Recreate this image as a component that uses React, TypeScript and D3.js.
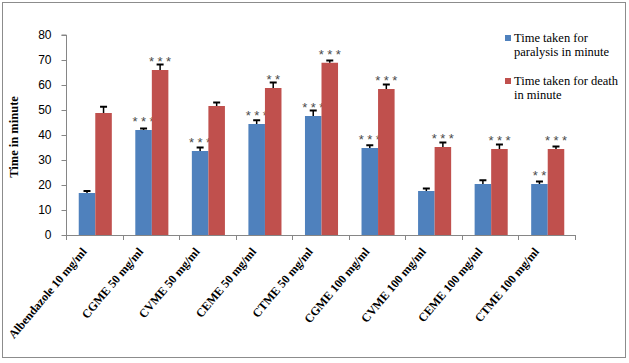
import React, { useEffect, useRef } from "react";
import * as d3 from "d3";

const categories = [
  "Albendazole 10 mg/ml",
  "CGME 50 mg/ml",
  "CVME 50 mg/ml",
  "CEME 50 mg/ml",
  "CTME 50 mg/ml",
  "CGME 100 mg/ml",
  "CVME 100 mg/ml",
  "CEME 100 mg/ml",
  "CTME 100 mg/ml",
];
const seriesNames = ["Time taken for paralysis in minute", "Time taken for death in minute"];
const paralysis = [16.8, 42, 33.6, 44.4, 47.6, 34.8, 17.6, 20.4, 20.4];
const paralysisErr = [0.8, 0.6, 1.4, 1.5, 2.2, 1.1, 1.0, 1.5, 1.0];
const death = [48.8, 66, 51.6, 58.8, 68.9, 58.4, 35.2, 34.4, 34.4];
const deathErr = [2.5, 2.2, 1.4, 2.2, 0.9, 1.8, 1.8, 1.8, 1.0];
const paralysisSig = ["", "***", "***", "***", "***", "***", "", "", "**"];
const deathSig = ["", "***", "", "**", "***", "***", "***", "***", "***"];
const yTicks = [0, 10, 20, 30, 40, 50, 60, 70, 80];
const colors = ["#4f81bd", "#c0504d"];

const W = 629;
const H = 363;
const SERIF = "'Liberation Serif', 'Times New Roman', 'DejaVu Serif', serif";
const SANS = "'Liberation Sans', Arial, sans-serif";

const App: React.FC = () => {
  const svgRef = useRef<SVGSVGElement | null>(null);

  useEffect(() => {
    if (!svgRef.current) return;
    const svg = d3.select(svgRef.current);
    svg.selectAll("*").remove();

    // chart frame
    svg.append("rect")
      .attr("x", 2.5).attr("y", 2.5)
      .attr("width", 623).attr("height", 355)
      .attr("fill", "white").attr("stroke", "#8c8c8c");

    const left = 67, right = 576, top = 35, bottom = 235;

    const x0 = d3.scaleBand<string>().domain(categories).range([left, right]).paddingInner(0).paddingOuter(0);
    const inner = d3.scaleBand<number>().domain([0, 1]).range([0, x0.bandwidth()]).paddingOuter(0.71).paddingInner(0);
    const y = d3.scaleLinear().domain([0, 80]).range([bottom, top]);

    // y axis
    const yAxis = d3.axisLeft(y).tickValues(yTicks).tickSize(5).tickPadding(10);
    const gy = svg.append("g").attr("transform", `translate(${left - 0.5},0)`).call(yAxis);
    gy.select(".domain").attr("d", `M-5,${top}H0V${bottom}`);
    gy.selectAll("path,line").attr("stroke", "#868686");
    gy.selectAll("text").attr("font-family", SANS).attr("font-size", 12).attr("fill", "#000");

    // x axis line and ticks at band boundaries
    const gx = svg.append("g");
    gx.append("line").attr("x1", left).attr("x2", right).attr("y1", bottom + 0.5).attr("y2", bottom + 0.5).attr("stroke", "#868686");
    const bounds = categories.map((c) => x0(c) as number).concat([right]);
    gx.selectAll("line.tk").data(bounds).enter().append("line")
      .attr("x1", (d) => Math.round(d) - 0.5).attr("x2", (d) => Math.round(d) - 0.5)
      .attr("y1", bottom).attr("y2", bottom + 5).attr("stroke", "#868686");

    // bars
    const data = [
      { vals: paralysis, errs: paralysisErr, sig: paralysisSig },
      { vals: death, errs: deathErr, sig: deathSig },
    ];
    data.forEach((s, si) => {
      const g = svg.append("g");
      categories.forEach((c, i) => {
        const bx = (x0(c) as number) + (inner(si) as number);
        const bw = inner.bandwidth();
        g.append("rect")
          .attr("x", bx).attr("y", y(s.vals[i]))
          .attr("width", bw).attr("height", bottom - y(s.vals[i]))
          .attr("fill", colors[si]);
        const cx = bx + bw / 2;
        const ty = y(s.vals[i] + s.errs[i]);
        g.append("line").attr("x1", cx).attr("x2", cx).attr("y1", y(s.vals[i])).attr("y2", ty)
          .attr("stroke", "#000").attr("stroke-width", 1.5);
        g.append("line").attr("x1", cx - 3.5).attr("x2", cx + 3.5).attr("y1", ty).attr("y2", ty)
          .attr("stroke", "#000").attr("stroke-width", 2);
        const n = s.sig[i].length;
        for (let k = 0; k < n; k++) {
          g.append("text")
            .attr("x", cx + (k - (n - 1) / 2) * 8.5).attr("y", Math.min(y(s.vals[i]) - 4, ty + 3))
            .attr("text-anchor", "middle")
            .attr("font-family", SANS)
            .attr("font-size", 13)
            .attr("fill", "#4a4a4a")
            .text("*");
        }
      });
    });

    // x labels
    categories.forEach((c) => {
      const cx = (x0(c) as number) + x0.bandwidth() / 2 - 8;
      svg.append("text")
        .attr("transform", `translate(${cx},${bottom + 17}) rotate(-50)`)
        .attr("text-anchor", "end")
        .attr("font-family", SERIF)
        .attr("font-weight", "bold")
        .attr("font-size", 12)
        .text(c);
    });

    // y title
    svg.append("text")
      .attr("transform", `translate(18,${(top + bottom) / 2 + 2}) rotate(-90)`)
      .attr("text-anchor", "middle")
      .attr("font-family", SERIF)
      .attr("font-weight", "bold")
      .attr("font-size", 12.5)
      .text("Time in minute");

    // legend
    const legendLines = [
      ["Time taken for", "paralysis in minute"],
      ["Time taken for death", "in minute"],
    ];
    seriesNames.forEach((_, si) => {
      const ly = 38 + si * 43;
      svg.append("rect").attr("x", 505).attr("y", ly - 3).attr("width", 6).attr("height", 6).attr("fill", colors[si]);
      legendLines[si].forEach((t, li) => {
        svg.append("text")
          .attr("x", 514).attr("y", ly + 4 + li * 14)
          .attr("font-family", SERIF)
          .attr("font-size", 12.5)
          .text(t);
      });
    });
  }, []);

  return <svg ref={svgRef} width={W} height={H} style={{ display: "block", position: "absolute", left: 0, top: 0 }}></svg>;
};

export default App;
